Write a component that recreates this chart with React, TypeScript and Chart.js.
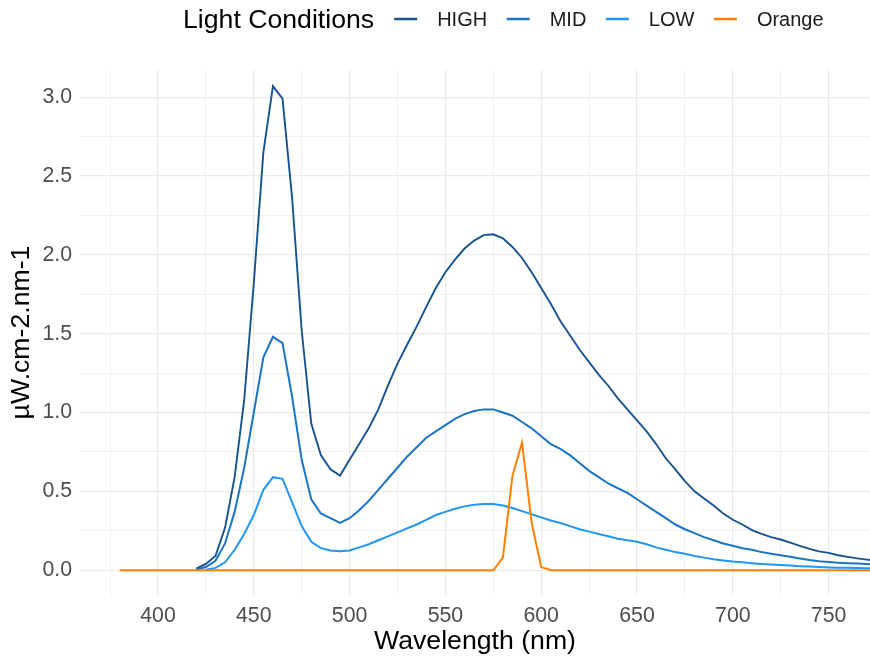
import React, { useEffect, useRef } from "react";
import { Chart, registerables } from "chart.js";

Chart.register(...registerables);

const FONT = '"Liberation Sans", Arial, Helvetica, sans-serif';

const legendTitle = "Light Conditions";
const xTitle = "Wavelength (nm)";
const yTitle = "µW.cm-2.nm-1";
const seriesNames = ["HIGH", "MID", "LOW", "Orange"];
const seriesColors = ["#175391", "#1c74c4", "#2196f3", "#ff8000"];

const wavelengths = [
  380, 385, 390, 395, 400, 405, 410, 415, 420, 425, 430, 435, 440, 445, 450, 455, 460, 465, 470, 475,
  480, 485, 490, 495, 500, 505, 510, 515, 520, 525, 530, 535, 540, 545, 550, 555, 560, 565, 570, 575,
  580, 585, 590, 595, 600, 605, 610, 615, 620, 625, 630, 635, 640, 645, 650, 655, 660, 665, 670, 675,
  680, 685, 690, 695, 700, 705, 710, 715, 720, 725, 730, 735, 740, 745, 750, 755, 760, 765, 770, 775, 780,
];

const highValues = [
  null, null, null, null, null, null, null, null, 0.01, 0.04, 0.09, 0.27, 0.59, 1.08, 1.82, 2.65, 3.07, 2.99, 2.36, 1.52,
  0.93, 0.73, 0.64, 0.6, 0.7, 0.8, 0.9, 1.02, 1.17, 1.31, 1.43, 1.545, 1.67, 1.79, 1.89, 1.97, 2.04, 2.09, 2.125, 2.13,
  2.105, 2.05, 1.98, 1.89, 1.79, 1.69, 1.58, 1.49, 1.4, 1.32, 1.24, 1.17, 1.09, 1.02, 0.95, 0.88, 0.8, 0.71, 0.64, 0.565,
  0.5, 0.455, 0.41, 0.36, 0.32, 0.29, 0.255, 0.23, 0.21, 0.195, 0.175, 0.155, 0.135, 0.12, 0.11, 0.095, 0.085, 0.075, 0.067, 0.06, 0.055,
];

const midValues = [
  null, null, null, null, null, null, null, null, 0.005, 0.02, 0.06, 0.17, 0.37, 0.65, 1.0, 1.35, 1.48, 1.44, 1.1, 0.7,
  0.45, 0.36, 0.33, 0.3, 0.33, 0.38, 0.44, 0.51, 0.58, 0.65, 0.72, 0.78, 0.84, 0.88, 0.92, 0.96, 0.99, 1.01, 1.02, 1.02,
  1.0, 0.98, 0.94, 0.9, 0.85, 0.8, 0.77, 0.73, 0.68, 0.63, 0.59, 0.55, 0.52, 0.49, 0.45, 0.41, 0.37, 0.33, 0.29, 0.26,
  0.235, 0.21, 0.19, 0.17, 0.155, 0.14, 0.13, 0.115, 0.105, 0.095, 0.085, 0.075, 0.065, 0.057, 0.052, 0.048, 0.045, 0.042, 0.039, 0.037, 0.035,
];

const lowValues = [
  null, null, null, null, null, null, null, null, null, 0.003, 0.015, 0.05, 0.13, 0.23, 0.35, 0.51, 0.59, 0.58, 0.43, 0.28,
  0.18, 0.14, 0.125, 0.12, 0.125, 0.145, 0.165, 0.19, 0.215, 0.24, 0.265, 0.29, 0.32, 0.35, 0.37, 0.39, 0.405, 0.415, 0.42, 0.42,
  0.41, 0.395, 0.375, 0.355, 0.335, 0.315, 0.3, 0.28, 0.26, 0.245, 0.23, 0.215, 0.2, 0.19, 0.18, 0.165, 0.145, 0.13, 0.115, 0.105,
  0.09, 0.08, 0.07, 0.062, 0.055, 0.05, 0.045, 0.04, 0.036, 0.033, 0.03, 0.026, 0.023, 0.02, 0.018, 0.016, 0.015, 0.014, 0.013, 0.012, 0.011,
];

const orangeValues = [
  0, 0, 0, 0, 0, 0, 0, 0, 0, 0, 0, 0, 0, 0, 0, 0, 0, 0, 0, 0,
  0, 0, 0, 0, 0, 0, 0, 0, 0, 0, 0, 0, 0, 0, 0, 0, 0, 0, 0, 0,
  0.08, 0.6, 0.81, 0.3, 0.02, 0, 0, 0, 0, 0, 0, 0, 0, 0, 0, 0, 0, 0, 0, 0,
  0, 0, 0, 0, 0, 0, 0, 0, 0, 0, 0, 0, 0, 0, 0, 0, 0, 0, 0, 0, 0,
];

const seriesValues = [highValues, midValues, lowValues, orangeValues];

const xMin = 359.3;
const xMax = 771.6;
const yMin = -0.157;
const yMax = 3.172;

const legendPlugin = {
  id: "inlineLegend",
  afterDraw(chart: any) {
    const ctx = chart.ctx;
    ctx.save();
    ctx.textBaseline = "alphabetic";
    ctx.textAlign = "left";
    ctx.font = `26.67px ${FONT}`;
    ctx.fillStyle = "#000000";
    let x = 183;
    ctx.fillText(legendTitle, x, 28);
    x += ctx.measureText(legendTitle).width + 20;
    ctx.font = `20px ${FONT}`;
    seriesNames.forEach((name, i) => {
      ctx.strokeStyle = seriesColors[i];
      ctx.lineWidth = 2.5;
      ctx.beginPath();
      ctx.moveTo(x, 19);
      ctx.lineTo(x + 23, 19);
      ctx.stroke();
      x += 23 + 20;
      ctx.fillStyle = "#1a1a1a";
      ctx.fillText(name, x, 26);
      x += ctx.measureText(name).width + 19.5;
    });
    ctx.restore();
  },
};

export default function App() {
  const canvasRef = useRef<HTMLCanvasElement | null>(null);

  useEffect(() => {
    document.body.style.margin = "0";
    const canvas = canvasRef.current;
    if (!canvas) return;
    Chart.defaults.font.family = FONT;

    const datasets = seriesNames.map((name, i) => ({
      label: name,
      data: wavelengths.map((w, k) => ({ x: w, y: seriesValues[i][k] })),
      borderColor: seriesColors[i],
      backgroundColor: seriesColors[i],
      borderWidth: i === 0 ? 1.9 : 2,
      pointRadius: 0,
      tension: 0,
      fill: false,
      spanGaps: false,
      order: 3 - i,
    }));

    const chart = new Chart(canvas, {
      type: "line",
      data: { datasets },
      plugins: [legendPlugin],
      options: {
        animation: false,
        responsive: false,
        maintainAspectRatio: false,
        layout: { padding: { top: 70, left: 0, right: 0, bottom: 0 } },
        plugins: {
          legend: { display: false },
          tooltip: { enabled: false },
          title: { display: false },
        },
        scales: {
          x: {
            type: "linear",
            min: xMin,
            max: xMax,
            border: { display: false },
            grid: {
              color: "#ebebeb",
              lineWidth: (c: any) => (c.tick && c.tick.value % 50 === 0 ? 1.2 : 0.7),
              drawTicks: false,
            },
            ticks: {
              stepSize: 25,
              includeBounds: false,
              autoSkip: false,
              maxRotation: 0,
              padding: 8,
              color: "#4d4d4d",
              font: { size: 21.3 },
              callback: (v: any) => (Number(v) % 50 === 0 ? String(v) : ""),
            },
            title: {
              display: true,
              text: xTitle,
              color: "#000000",
              font: { size: 26.67 },
              padding: { top: 0, bottom: 2 },
            },
            afterFit: (scale: any) => {
              scale.height = 65;
            },
          },
          y: {
            type: "linear",
            min: yMin,
            max: yMax,
            border: { display: false },
            grid: {
              color: "#ebebeb",
              lineWidth: (c: any) => {
                const v = c.tick ? c.tick.value : 0;
                return Math.abs(v * 2 - Math.round(v * 2)) < 1e-6 ? 1.2 : 0.7;
              },
              drawTicks: false,
            },
            ticks: {
              stepSize: 0.25,
              includeBounds: false,
              autoSkip: false,
              padding: 8,
              color: "#4d4d4d",
              font: { size: 21.3 },
              callback: (v: any) => {
                const n = Number(v);
                return Math.abs(n * 2 - Math.round(n * 2)) < 1e-6 ? n.toFixed(1) : "";
              },
            },
            title: {
              display: true,
              text: yTitle,
              color: "#000000",
              font: { size: 26.67 },
              padding: { top: 6, bottom: 0 },
            },
            afterFit: (scale: any) => {
              scale.width = 80;
            },
          },
        },
      },
    });

    return () => {
      chart.destroy();
    };
  }, []);

  return (
    <div style={{ width: 870, height: 660, background: "#ffffff" }}>
      <canvas ref={canvasRef} width={870} height={660} style={{ display: "block" }} />
    </div>
  );
}
